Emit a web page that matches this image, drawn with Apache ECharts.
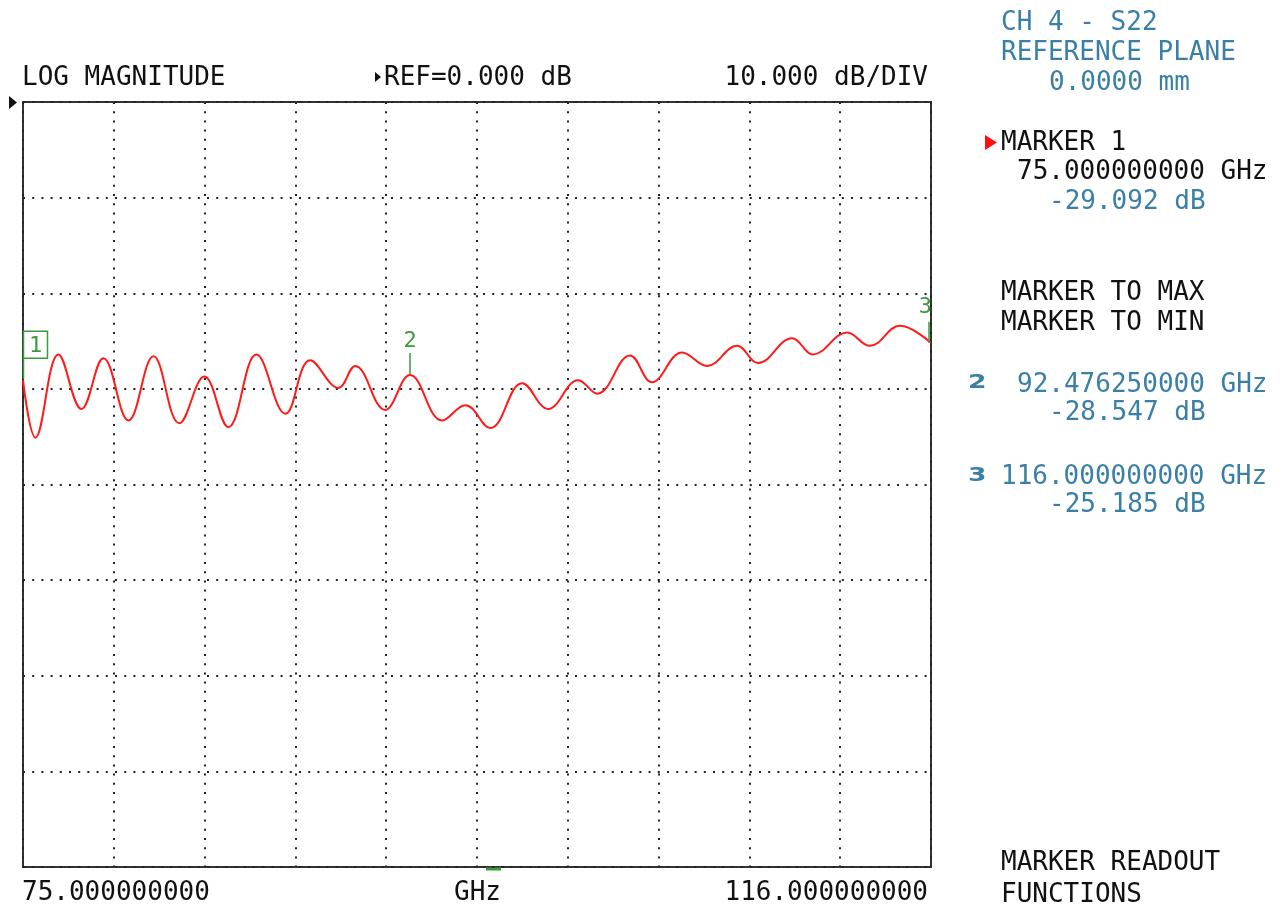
<!DOCTYPE html>
<html>
<head>
<meta charset="utf-8">
<script src="https://cdn.jsdelivr.net/npm/echarts@6/dist/echarts.min.js"></script>
<style>
html,body{margin:0;padding:0;background:#fff;}
#chart{width:1283px;height:908px;}
</style>
</head>
<body>
<div id="chart"></div>
<script>
// ---- data ----
const freqGHz = [75.00, 75.56, 76.60, 77.64, 78.63, 79.76, 80.89, 82.06, 83.19, 84.27,
  85.54, 86.85, 87.97, 89.24, 90.00, 91.35, 92.476, 93.93, 94.97, 96.10,
  97.54, 98.71, 100.07, 100.93, 102.41, 103.40, 104.76, 105.89, 107.24, 108.19,
  109.73, 110.67, 112.21, 113.24, 114.60, 116.00];
const magDB = [-29.09, -35.1, -26.4, -32.1, -26.8, -33.3, -26.6, -33.6, -28.7, -34.0,
  -26.4, -32.6, -27.0, -29.9, -27.6, -32.2, -28.55, -33.3, -31.7, -34.1,
  -29.4, -32.1, -29.1, -30.5, -26.5, -29.3, -26.2, -27.6, -25.5, -27.3,
  -24.7, -26.4, -24.1, -25.5, -23.4, -25.19];
const markerFreq = [75.0, 92.47625, 116.0];
const markerDB = [-29.092, -28.547, -25.185];
const markerIds = ['1', '2', '3'];
const startFreqLabel = '75.000000000';
const unitLabel = 'GHz';
const stopFreqLabel = '116.000000000';
const refLevelDB = 0;
const scaleDBperDiv = 10;
const yDivisions = 8;
const xDivisions = 10;

const MONO = '26px "DejaVu Sans Mono"';
const BLUE = '#3a7fa6';
const BLACK = '#111';
const GREEN = '#3c9a3c';

function txt(x, y, s, color, font, align, sx) {
  return {type: 'text', x: x, y: y, silent: true, scaleX: sx || 1,
    style: {text: s, fill: color || BLACK, font: font || MONO, align: align || 'left', verticalAlign: 'middle'}};
}

const chart = echarts.init(document.getElementById('chart'), null, {renderer: 'canvas'});
const option = {
  animation: false,
  backgroundColor: '#fff',
  grid: {left: 23, right: 352, top: 102, bottom: 41, show: true, borderColor: '#333', borderWidth: 2, backgroundColor: 'transparent'},
  xAxis: [
    {type: 'value', min: freqGHz[0], max: freqGHz[freqGHz.length - 1], show: false},
    {type: 'value', min: 0, max: xDivisions, interval: 1, position: 'bottom',
      axisLine: {show: false}, axisTick: {show: false}, axisLabel: {show: false},
      splitLine: {show: true, lineStyle: {color: '#222', width: 2, type: [2, 7.2]}}}
  ],
  yAxis: {type: 'value', min: refLevelDB - scaleDBperDiv * yDivisions, max: refLevelDB, interval: scaleDBperDiv,
    axisLine: {show: false}, axisTick: {show: false}, axisLabel: {show: false},
    splitLine: {show: true, lineStyle: {color: '#222', width: 2, type: [2, 7.2]}}},
  series: [
    {type: 'line', xAxisIndex: 0, data: freqGHz.map((f, i) => [f, magDB[i]]),
      smooth: 0.4, showSymbol: false, lineStyle: {color: '#ff1a1a', width: 2}, z: 3},
    {type: 'custom', xAxisIndex: 0, clip: false, z: 4,
      data: markerFreq.map((f, i) => [f, markerDB[i], markerIds[i]]),
      renderItem: function (params, api) {
        const p = api.coord([api.value(0), api.value(1)]);
        const id = markerIds[params.dataIndex];
        const ls = {stroke: GREEN, lineWidth: 1.5, fill: null};
        const tf = '22px "DejaVu Sans Mono"';
        if (params.dataIndex === 0) {
          return {type: 'group', children: [
            {type: 'line', shape: {x1: p[0] + 0.5, y1: p[1] - 22, x2: p[0] + 0.5, y2: p[1] - 1}, style: ls},
            {type: 'rect', shape: {x: p[0] + 0.5, y: p[1] - 49, width: 24, height: 27}, style: ls},
            {type: 'text', x: p[0] + 12.5, y: p[1] - 34, style: {text: id, fill: GREEN, font: tf, align: 'center', verticalAlign: 'middle'}}
          ]};
        } else if (params.dataIndex === 1) {
          return {type: 'group', children: [
            {type: 'line', shape: {x1: p[0], y1: p[1] - 22, x2: p[0], y2: p[1] - 1}, style: ls},
            {type: 'text', x: p[0], y: p[1] - 34, style: {text: id, fill: GREEN, font: tf, align: 'center', verticalAlign: 'middle'}}
          ]};
        }
        return {type: 'group', children: [
          {type: 'line', shape: {x1: p[0] - 2, y1: p[1] - 21, x2: p[0] - 2, y2: p[1]}, style: ls},
          {type: 'text', x: p[0] + 1, y: p[1] - 36, style: {text: id, fill: GREEN, font: tf, align: 'right', verticalAlign: 'middle'}}
        ]};
      }}
  ],
  graphic: [
    txt(22, 78, 'LOG MAGNITUDE'),
    {type: 'polygon', shape: {points: [[375, 72], [375, 82], [381, 77]]}, style: {fill: BLACK}},
    txt(384, 78, 'REF=0.000 dB'),
    txt(928, 78, '10.000 dB/DIV', BLACK, MONO, 'right'),
    {type: 'polygon', shape: {points: [[9, 96], [9, 109], [17, 102.5]]}, style: {fill: BLACK}},
    txt(22, 893, startFreqLabel),
    txt(454, 893, unitLabel),
    txt(928, 893, stopFreqLabel, BLACK, MONO, 'right'),
    {type: 'rect', shape: {x: 486, y: 867.5, width: 15, height: 3}, style: {fill: GREEN}},
    txt(1001, 23, 'CH 4 - S22', BLUE),
    txt(1001, 53, 'REFERENCE PLANE', BLUE),
    txt(1049, 83, '0.0000 mm', BLUE),
    {type: 'polygon', shape: {points: [[985, 135], [985, 150], [997, 142.5]]}, style: {fill: '#ff1010'}},
    txt(1001, 143, 'MARKER 1'),
    txt(1017, 172, '75.000000000 GHz'),
    txt(1049, 202, '-29.092 dB', BLUE),
    txt(1001, 293, 'MARKER TO MAX'),
    txt(1001, 323, 'MARKER TO MIN'),
    txt(968, 383, '2', BLUE, 'bold 19px "DejaVu Sans"', 'left', 1.4),
    txt(1017, 385, '92.476250000 GHz', BLUE),
    txt(1049, 413, '-28.547 dB', BLUE),
    txt(968, 476, '3', BLUE, 'bold 19px "DejaVu Sans"', 'left', 1.4),
    txt(1001, 477, '116.000000000 GHz', BLUE),
    txt(1049, 505, '-25.185 dB', BLUE),
    txt(1001, 863, 'MARKER READOUT'),
    txt(1001, 895, 'FUNCTIONS')
  ]
};
chart.setOption(option);
</script>
</body>
</html>
